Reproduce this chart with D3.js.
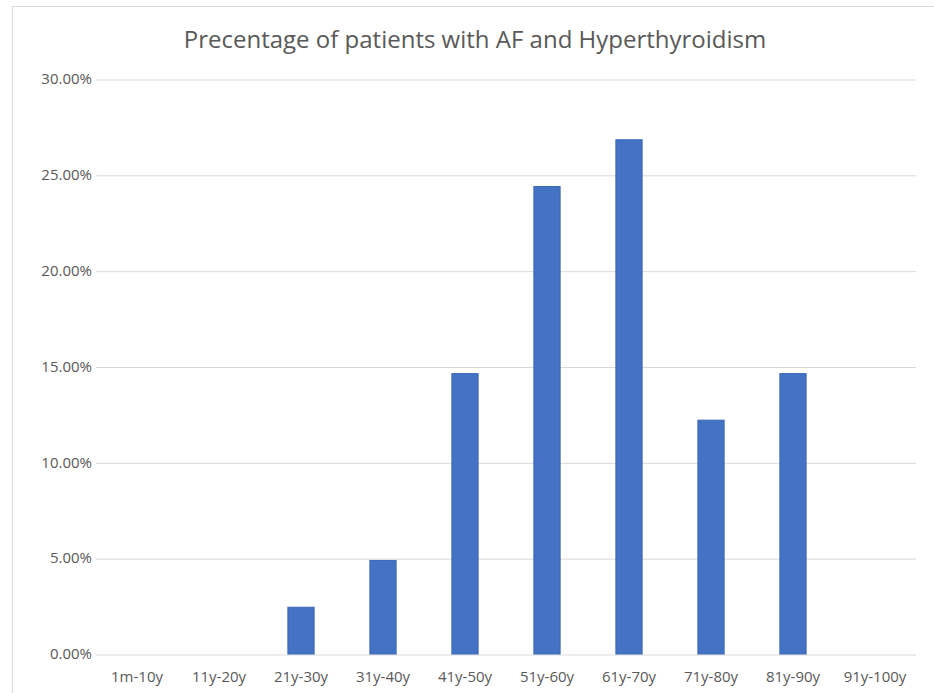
<!DOCTYPE html>
<meta charset="utf-8">
<style>
body { margin: 0; background: #fff; }
text { font-family: "Open Sans", "Noto Sans", sans-serif; fill: #595959; }
.grid line { stroke: #d9d9d9; stroke-width: 1; }
.grid path { display: none; }
</style>
<body>
<script src="https://d3js.org/d3.v7.min.js"></script>
<script>

const categories = ["1m-10y", "11y-20y", "21y-30y", "31y-40y", "41y-50y",
                    "51y-60y", "61y-70y", "71y-80y", "81y-90y", "91y-100y"];
const percents   = [0, 0, 2.44, 4.88, 14.63, 24.39, 26.83, 12.20, 14.63, 0];
const yTicks     = [0, 5, 10, 15, 20, 25, 30];
const title      = "Precentage of patients with AF and Hyperthyroidism";

var W = 934, H = 693;
var margin = {top: 79, right: 18, bottom: 39, left: 96};
var width  = W - margin.left - margin.right,
    height = H - margin.top - margin.bottom;

var svg = d3.select("body").append("svg")
    .attr("width", W)
    .attr("height", H);

// chart frame
svg.append("rect")
    .attr("x", 12.5).attr("y", 6.5)
    .attr("width", W).attr("height", H)
    .attr("fill", "none")
    .attr("stroke", "#d9d9d9");

var g = svg.append("g")
    .attr("transform", "translate(" + margin.left + "," + margin.top + ")");

var x = d3.scaleBand().domain(categories).range([0, width]).paddingInner(0.68).paddingOuter(0.34);
var y = d3.scaleLinear().domain([0, 30]).range([height, 0]);

g.append("g")
    .attr("class", "grid")
    .call(d3.axisLeft(y).tickValues(yTicks).tickSize(-width).tickFormat(""))
    .selectAll("line").attr("transform", "translate(0,0.5)");

// y labels
g.selectAll(".ylab")
  .data(yTicks)
  .enter().append("text")
    .attr("class", "ylab")
    .attr("x", -4)
    .attr("y", d => y(d))
    .attr("dy", "0.35em")
    .attr("text-anchor", "end")
    .style("font-size", "15px")
    .text(d => d.toFixed(2) + "%");

g.selectAll(".bar")
  .data(percents)
  .enter().append("rect")
    .attr("class", "bar")
    .attr("x", (d, i) => x(categories[i]))
    .attr("width", x.bandwidth())
    .attr("y", d => y(d))
    .attr("height", d => height - y(d))
    .attr("fill", "#4472c4")
    .attr("stroke", "#3d68b8")
    .attr("stroke-width", 1);

// x labels
var xc = d3.scaleBand().domain(categories).range([0, width]);
g.selectAll(".xlab")
  .data(categories)
  .enter().append("text")
    .attr("class", "xlab")
    .attr("x", d => xc(d) + xc.bandwidth() / 2)
    .attr("y", height + 23)
    .attr("dy", "0.35em")
    .attr("text-anchor", "middle")
    .style("font-size", "15px")
    .text(d => d);

svg.append("text")
    .attr("x", 475)
    .attr("y", 48)
    .attr("text-anchor", "middle")
    .style("font-size", "24px")
    .text(title);

</script>
</body>
